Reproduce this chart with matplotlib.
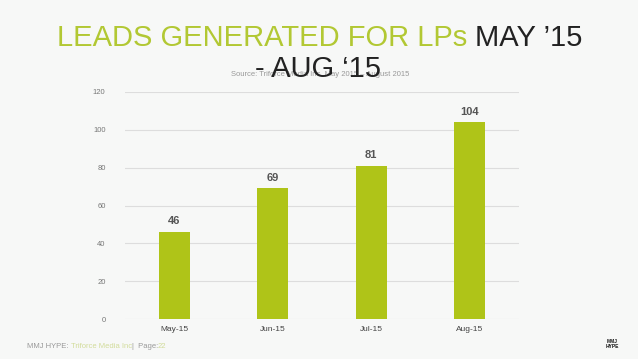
import matplotlib
matplotlib.use('Agg')
import matplotlib.pyplot as plt
import numpy as np

months = ['May-15', 'Jun-15', 'Jul-15', 'Aug-15']
leads = [46, 69, 81, 104]
yticks = [0, 20, 40, 60, 80, 100, 120]

bg = '#f7f8f7'
green = '#afc418'
title_green = '#b2c833'

plt.rcParams['font.family'] = ['Liberation Sans', 'DejaVu Sans']

fig = plt.figure(figsize=(6.38, 3.59), dpi=100, facecolor=bg)
ax = fig.add_axes([125 / 638, 1 - 319 / 359, 394 / 638, 227 / 359], facecolor=bg)

x = np.arange(len(months))
ax.bar(x, leads, width=0.31, color=green, zorder=3)
for xi, v in zip(x, leads):
    ax.text(xi, v + 3, str(v), ha='center', va='bottom', fontsize=8,
            fontweight='bold', color='#555555')

ax.set_xlim(-0.5, len(months) - 0.5)
ax.set_ylim(0, 120)
ax.set_yticks(yticks)
ax.set_xticks(x)
ax.set_xticklabels(months, fontsize=6, color='#444444')
ax.tick_params(axis='y', labelsize=5.5, labelcolor='#777777', length=0, pad=14)
ax.tick_params(axis='x', length=0, pad=5)
ax.grid(axis='y', color='#dddddd', linewidth=0.8, zorder=0)
for s in ax.spines.values():
    s.set_visible(False)

# title in two colours
t1 = fig.text(57 / 638, 1 - 38 / 359, 'LEADS GENERATED FOR LPs ', fontsize=21,
              color=title_green, ha='left', va='center')
fig.canvas.draw()
bb = t1.get_window_extent()
fig.text(bb.x1 / 638, 1 - 38 / 359, 'MAY \u201915', fontsize=21,
         color='#222222', ha='left', va='center')
fig.text(320 / 638, 1 - 74 / 359, 'Source: Triforce Media Inc. May 2015 \u2013 August 2015',
         fontsize=5.5, color='#999999', ha='center', va='center')
fig.text(318 / 638, 1 - 69 / 359, '- AUG \u201815', fontsize=21,
         color='#222222', ha='center', va='center')

# footer
fy = 1 - 347 / 359
f1 = fig.text(27 / 638, fy, 'MMJ HYPE: ', fontsize=5.5, color='#999999',
              ha='left', va='center')
fig.canvas.draw()
x0 = f1.get_window_extent().x1
f2 = fig.text(x0 / 638, fy, 'Triforce Media Inc', fontsize=5.5,
              color='#d2dc9a', ha='left', va='center')
fig.canvas.draw()
x0 = f2.get_window_extent().x1
f3 = fig.text(x0 / 638, fy, '|  Page:', fontsize=5.5, color='#999999',
              ha='left', va='center')
fig.canvas.draw()
x0 = f3.get_window_extent().x1
fig.text(x0 / 638, fy, '22', fontsize=5.5, color='#d2dc9a',
         ha='left', va='center')

fig.text(612 / 638, 1 - 344 / 359, 'MMJ\nHYPE', fontsize=3.5, fontweight='bold',
         color='#111111', ha='center', va='center', linespacing=0.9)

fig.savefig('out.png', dpi=100, facecolor=bg)
